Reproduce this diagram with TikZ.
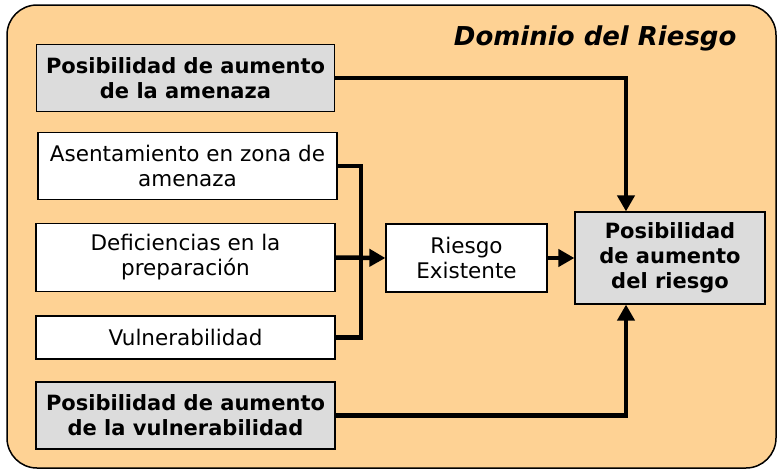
\documentclass[tikz,border=0pt]{standalone}
\usepackage{fontspec}
\setmainfont{DejaVu Sans}
\usetikzlibrary{arrows.meta}
\definecolor{fondo}{HTML}{FED294}
\definecolor{gris}{HTML}{DCDCDC}

\begin{document}
\begin{tikzpicture}[x=1pt, y=-1pt,
  caja/.style={draw, line width=1.2pt, fill=white, align=center, inner sep=0pt,
    font=\fontsize{21.5}{25}\selectfont},
  factor/.style={caja, fill=gris, font=\fontsize{21}{25}\selectfont\bfseries},
  flecha/.style={line width=4.5pt, -{Triangle[length=16pt,width=17pt]}},
  linea/.style={line width=4.5pt}]
\useasboundingbox (0,0) rectangle (777,471);
\draw[fill=fondo, line width=1.5pt, rounded corners=30pt] (7,5) rectangle (776,468);
\node[anchor=east, font=\fontsize{26}{28}\selectfont\bfseries\itshape] (titulo) at (740,38) {Dominio del Riesgo};

\node[factor, minimum width=298pt, minimum height=67pt] (amenaza) at (185.5,78) {Posibilidad de aumento\\de la amenaza};
\node[caja, minimum width=299pt, minimum height=67pt] (asentamiento) at (187.5,166) {Asentamiento en zona de\\amenaza};
\node[caja, minimum width=299pt, minimum height=68pt] (deficiencias) at (185.5,257.5) {Deficiencias en la\\preparación};
\node[caja, minimum width=299pt, minimum height=43pt] (vulnerab) at (185.5,337.5) {Vulnerabilidad};
\node[factor, minimum width=299pt, minimum height=67pt] (aumvulnerab) at (185.5,415.5) {Posibilidad de aumento\\de la vulnerabilidad};

\node[caja, minimum width=161pt, minimum height=68pt] (existente) at (466.5,258) {Riesgo\\Existente};
\node[factor, minimum width=190pt, minimum height=92pt] (aumriesgo) at (670,258) {Posibilidad\\de aumento\\del riesgo};

\coordinate (bus) at (361,258);
\draw[linea] (asentamiento.east) -| (bus) |- (vulnerab.east);
\draw[flecha] (deficiencias.east) -- (existente.west);
\draw[flecha] (existente.east) -- (aumriesgo.west);
\draw[flecha] (amenaza.east) -| ([xshift=-44pt]aumriesgo.north);
\draw[flecha] (aumvulnerab.east) -| ([xshift=-44pt]aumriesgo.south);
\end{tikzpicture}
\end{document}
